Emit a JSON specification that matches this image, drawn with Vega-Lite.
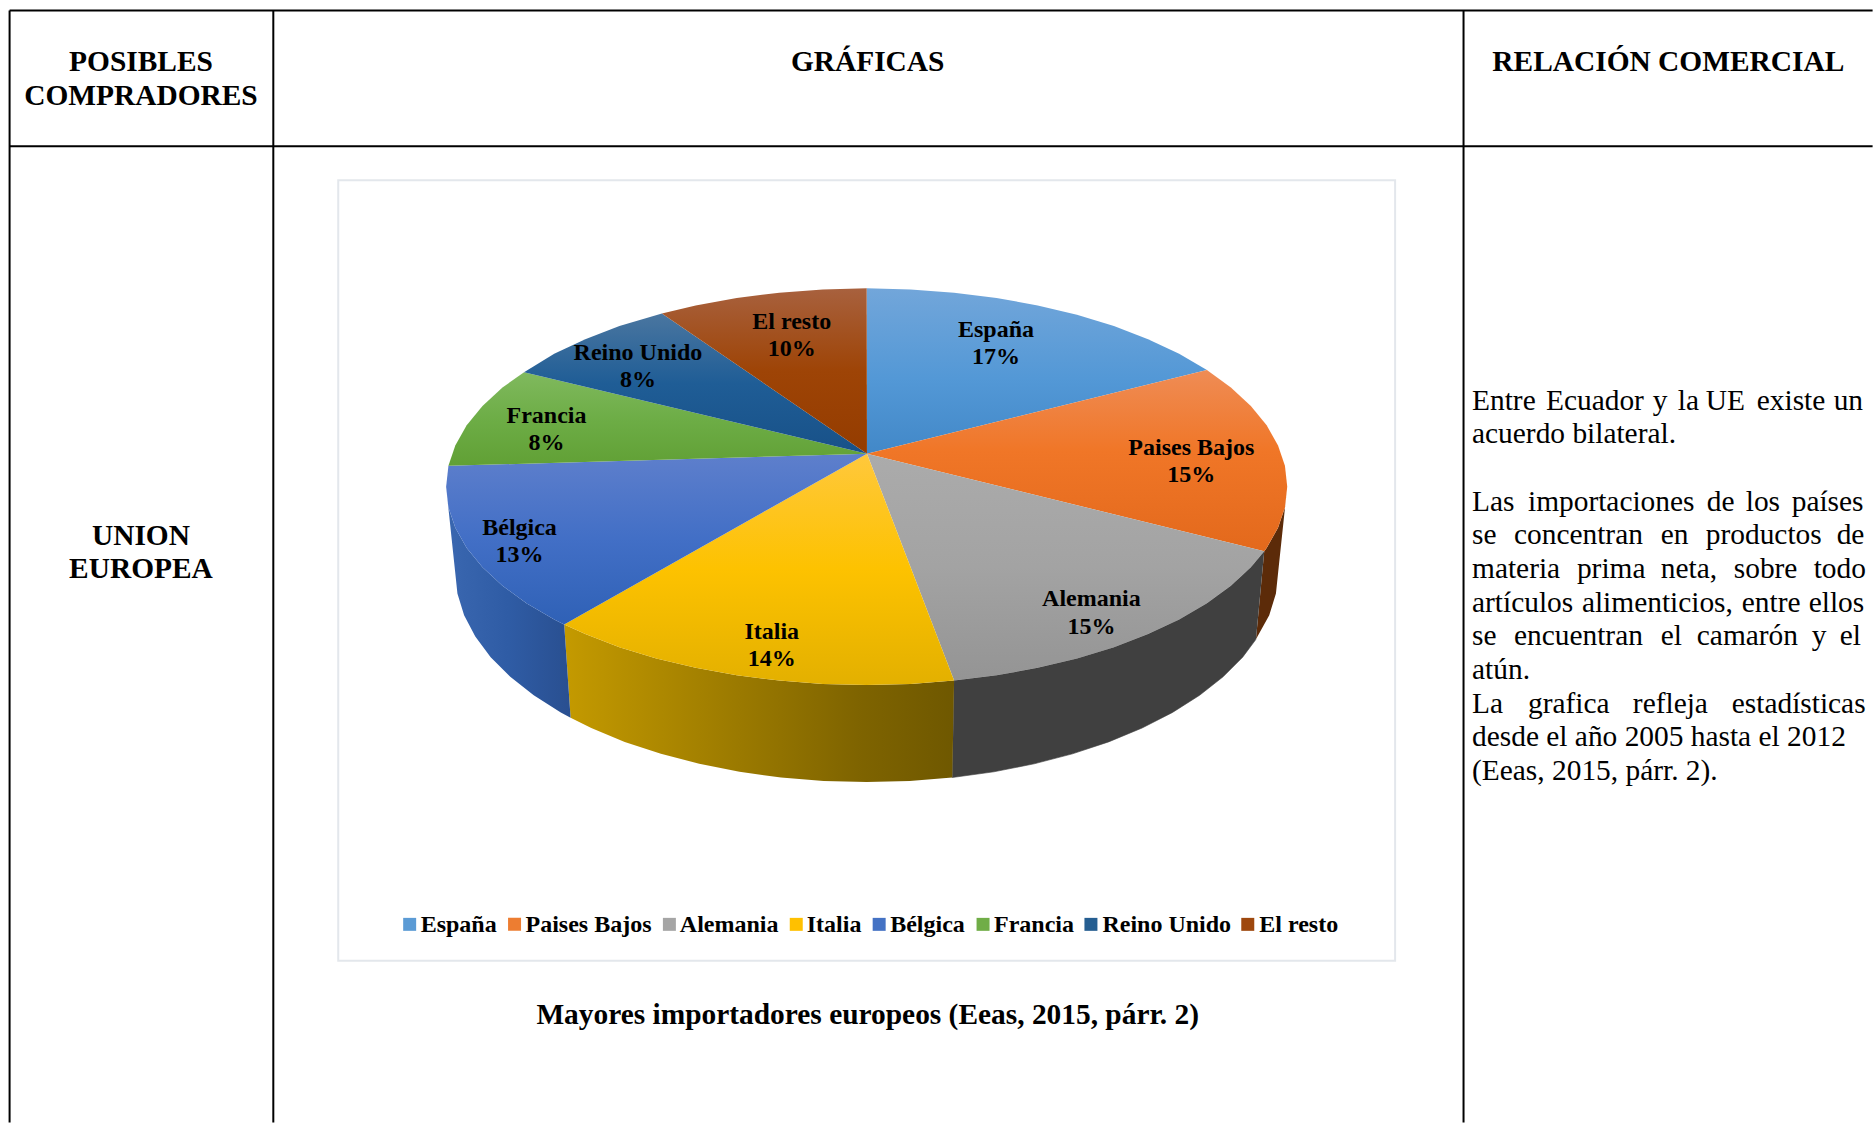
{"$schema":"https://vega.github.io/schema/vega-lite/v6.json","width":1874,"height":1124,"padding":0,"autosize":{"type":"fit","contains":"padding"},"background":"white","config":{"view":{"stroke":null}},
"datasets":{
"tabla":[{"x":9,"y":10,"x2":1874,"y2":10},{"x":9,"y":146,"x2":1874,"y2":146},{"x":9,"y":10,"x2":9,"y2":1124},{"x":273,"y":10,"x2":273,"y2":1124},{"x":1464.5,"y":10,"x2":1464.5,"y2":1124}],
"marco":[{"x":338,"y":180,"x2":1396,"y2":962}],
"piezas":[
{"pieza":"Paises Bajos (lado)","x":1288,"y":487},{"pieza":"Paises Bajos (lado)","x":1285.7,"y":507.8},{"pieza":"Paises Bajos (lado)","x":1278.8,"y":528.3},{"pieza":"Paises Bajos (lado)","x":1267.4,"y":548.4},{"pieza":"Paises Bajos (lado)","x":1265,"y":551.7},{"pieza":"Paises Bajos (lado)","x":1256.7,"y":640},{"pieza":"Paises Bajos (lado)","x":1270,"y":615.9},{"pieza":"Paises Bajos (lado)","x":1276.7,"y":594},{"pieza":"Paises Bajos (lado)","x":1279,"y":572},
{"pieza":"Alemania (lado)","x":1265,"y":551.7},{"pieza":"Alemania (lado)","x":1251.6,"y":567.8},{"pieza":"Alemania (lado)","x":1231.6,"y":586.4},{"pieza":"Alemania (lado)","x":1207.6,"y":603.8},{"pieza":"Alemania (lado)","x":1179.8,"y":620},{"pieza":"Alemania (lado)","x":1148.7,"y":634.7},{"pieza":"Alemania (lado)","x":1114.5,"y":647.8},{"pieza":"Alemania (lado)","x":1077.5,"y":659.1},{"pieza":"Alemania (lado)","x":1038.2,"y":668.5},{"pieza":"Alemania (lado)","x":997.1,"y":676},{"pieza":"Alemania (lado)","x":954.5,"y":681.3},{"pieza":"Alemania (lado)","x":952.7,"y":778.4},{"pieza":"Alemania (lado)","x":994.3,"y":772.7},{"pieza":"Alemania (lado)","x":1034.6,"y":764.7},{"pieza":"Alemania (lado)","x":1073,"y":754.7},{"pieza":"Alemania (lado)","x":1109.2,"y":742.7},{"pieza":"Alemania (lado)","x":1142.7,"y":728.8},{"pieza":"Alemania (lado)","x":1173.2,"y":713.2},{"pieza":"Alemania (lado)","x":1200.3,"y":696},{"pieza":"Alemania (lado)","x":1223.8,"y":677.5},{"pieza":"Alemania (lado)","x":1243.4,"y":657.8},{"pieza":"Alemania (lado)","x":1256.7,"y":640},
{"pieza":"Italia (lado)","x":954.5,"y":681.3},{"pieza":"Italia (lado)","x":911,"y":684.6},{"pieza":"Italia (lado)","x":867,"y":685.7},{"pieza":"Italia (lado)","x":823,"y":684.6},{"pieza":"Italia (lado)","x":779.5,"y":681.3},{"pieza":"Italia (lado)","x":736.9,"y":676},{"pieza":"Italia (lado)","x":695.8,"y":668.5},{"pieza":"Italia (lado)","x":656.5,"y":659.1},{"pieza":"Italia (lado)","x":619.5,"y":647.8},{"pieza":"Italia (lado)","x":585.3,"y":634.7},{"pieza":"Italia (lado)","x":564.2,"y":625},{"pieza":"Italia (lado)","x":570.6,"y":718.6},{"pieza":"Italia (lado)","x":591.3,"y":728.8},{"pieza":"Italia (lado)","x":624.8,"y":742.7},{"pieza":"Italia (lado)","x":661,"y":754.7},{"pieza":"Italia (lado)","x":699.4,"y":764.7},{"pieza":"Italia (lado)","x":739.7,"y":772.7},{"pieza":"Italia (lado)","x":781.3,"y":778.4},{"pieza":"Italia (lado)","x":823.9,"y":781.8},{"pieza":"Italia (lado)","x":867,"y":783},{"pieza":"Italia (lado)","x":910.1,"y":781.8},{"pieza":"Italia (lado)","x":952.7,"y":778.4},
{"pieza":"Bélgica (lado)","x":564.2,"y":625},{"pieza":"Bélgica (lado)","x":554.2,"y":620},{"pieza":"Bélgica (lado)","x":526.4,"y":603.8},{"pieza":"Bélgica (lado)","x":502.4,"y":586.4},{"pieza":"Bélgica (lado)","x":482.4,"y":567.8},{"pieza":"Bélgica (lado)","x":466.6,"y":548.4},{"pieza":"Bélgica (lado)","x":455.2,"y":528.3},{"pieza":"Bélgica (lado)","x":448.3,"y":507.8},{"pieza":"Bélgica (lado)","x":446,"y":487},{"pieza":"Bélgica (lado)","x":455,"y":572},{"pieza":"Bélgica (lado)","x":457.3,"y":594},{"pieza":"Bélgica (lado)","x":464,"y":615.9},{"pieza":"Bélgica (lado)","x":475.2,"y":637.2},{"pieza":"Bélgica (lado)","x":490.6,"y":657.8},{"pieza":"Bélgica (lado)","x":510.2,"y":677.5},{"pieza":"Bélgica (lado)","x":533.7,"y":696},{"pieza":"Bélgica (lado)","x":560.8,"y":713.2},{"pieza":"Bélgica (lado)","x":570.6,"y":718.6},
{"pieza":"España","x":867.3,"y":454},{"pieza":"España","x":867,"y":288.3},{"pieza":"España","x":911,"y":289.4},{"pieza":"España","x":954.5,"y":292.7},{"pieza":"España","x":997.1,"y":298},{"pieza":"España","x":1038.2,"y":305.5},{"pieza":"España","x":1077.5,"y":314.9},{"pieza":"España","x":1114.5,"y":326.2},{"pieza":"España","x":1148.7,"y":339.3},{"pieza":"España","x":1179.8,"y":354},{"pieza":"España","x":1207.6,"y":370.2},
{"pieza":"Paises Bajos","x":867.3,"y":454},{"pieza":"Paises Bajos","x":1207.6,"y":370.2},{"pieza":"Paises Bajos","x":1231.6,"y":387.6},{"pieza":"Paises Bajos","x":1251.6,"y":406.2},{"pieza":"Paises Bajos","x":1267.4,"y":425.6},{"pieza":"Paises Bajos","x":1278.8,"y":445.7},{"pieza":"Paises Bajos","x":1285.7,"y":466.2},{"pieza":"Paises Bajos","x":1288,"y":487},{"pieza":"Paises Bajos","x":1285.7,"y":507.8},{"pieza":"Paises Bajos","x":1278.8,"y":528.3},{"pieza":"Paises Bajos","x":1267.4,"y":548.4},{"pieza":"Paises Bajos","x":1265,"y":551.7},
{"pieza":"Alemania","x":867.3,"y":454},{"pieza":"Alemania","x":1265,"y":551.7},{"pieza":"Alemania","x":1251.6,"y":567.8},{"pieza":"Alemania","x":1231.6,"y":586.4},{"pieza":"Alemania","x":1207.6,"y":603.8},{"pieza":"Alemania","x":1179.8,"y":620},{"pieza":"Alemania","x":1148.7,"y":634.7},{"pieza":"Alemania","x":1114.5,"y":647.8},{"pieza":"Alemania","x":1077.5,"y":659.1},{"pieza":"Alemania","x":1038.2,"y":668.5},{"pieza":"Alemania","x":997.1,"y":676},{"pieza":"Alemania","x":954.5,"y":681.3},
{"pieza":"Italia","x":867.3,"y":454},{"pieza":"Italia","x":954.5,"y":681.3},{"pieza":"Italia","x":911,"y":684.6},{"pieza":"Italia","x":867,"y":685.7},{"pieza":"Italia","x":823,"y":684.6},{"pieza":"Italia","x":779.5,"y":681.3},{"pieza":"Italia","x":736.9,"y":676},{"pieza":"Italia","x":695.8,"y":668.5},{"pieza":"Italia","x":656.5,"y":659.1},{"pieza":"Italia","x":619.5,"y":647.8},{"pieza":"Italia","x":585.3,"y":634.7},{"pieza":"Italia","x":564.2,"y":625},
{"pieza":"Bélgica","x":867.3,"y":454},{"pieza":"Bélgica","x":564.2,"y":625},{"pieza":"Bélgica","x":554.2,"y":620},{"pieza":"Bélgica","x":526.4,"y":603.8},{"pieza":"Bélgica","x":502.4,"y":586.4},{"pieza":"Bélgica","x":482.4,"y":567.8},{"pieza":"Bélgica","x":466.6,"y":548.4},{"pieza":"Bélgica","x":455.2,"y":528.3},{"pieza":"Bélgica","x":448.3,"y":507.8},{"pieza":"Bélgica","x":446,"y":487},{"pieza":"Bélgica","x":448.3,"y":466.2},
{"pieza":"Francia","x":867.3,"y":454},{"pieza":"Francia","x":448.3,"y":466.2},{"pieza":"Francia","x":455.2,"y":445.7},{"pieza":"Francia","x":466.6,"y":425.6},{"pieza":"Francia","x":482.4,"y":406.2},{"pieza":"Francia","x":502.4,"y":387.6},{"pieza":"Francia","x":524,"y":372.5},
{"pieza":"Reino Unido","x":867.3,"y":454},{"pieza":"Reino Unido","x":524,"y":372.5},{"pieza":"Reino Unido","x":554.2,"y":354},{"pieza":"Reino Unido","x":585.3,"y":339.3},{"pieza":"Reino Unido","x":619.5,"y":326.2},{"pieza":"Reino Unido","x":662,"y":313.6},
{"pieza":"El resto","x":867.3,"y":454},{"pieza":"El resto","x":662,"y":313.6},{"pieza":"El resto","x":695.8,"y":305.5},{"pieza":"El resto","x":736.9,"y":298},{"pieza":"El resto","x":779.5,"y":292.7},{"pieza":"El resto","x":823,"y":289.4},{"pieza":"El resto","x":867,"y":288.3}
],
"leyenda":[{"pieza":"España","x":403,"x2":416,"y":919,"y2":932,"tx":420.5,"ty":933},{"pieza":"Paises Bajos","x":508,"x2":521,"y":919,"y2":932,"tx":525.5,"ty":933},{"pieza":"Alemania","x":663,"x2":676,"y":919,"y2":932,"tx":680,"ty":933},{"pieza":"Italia","x":790,"x2":803,"y":919,"y2":932,"tx":807,"ty":933},{"pieza":"Bélgica","x":873,"x2":886,"y":919,"y2":932,"tx":890.5,"ty":933},{"pieza":"Francia","x":977,"x2":990,"y":919,"y2":932,"tx":994.5,"ty":933},{"pieza":"Reino Unido","x":1085,"x2":1098,"y":919,"y2":932,"tx":1103,"ty":933},{"pieza":"El resto","x":1242,"x2":1255,"y":919,"y2":932,"tx":1260,"ty":933}],
"etiquetas":[{"texto":"España\n17%","x":996.5,"y":337},{"texto":"Paises Bajos\n15%","x":1192,"y":455},{"texto":"Alemania\n15%","x":1092,"y":607},{"texto":"Italia\n14%","x":772,"y":639.5},{"texto":"Bélgica\n13%","x":519.5,"y":535},{"texto":"Francia\n8%","x":546.5,"y":423},{"texto":"Reino Unido\n8%","x":638,"y":360},{"texto":"El resto\n10%","x":792,"y":329}],
"titulos":[{"texto":"POSIBLES","x":140.5,"y":71},{"texto":"COMPRADORES","x":140.5,"y":105},{"texto":"GRÁFICAS","x":868,"y":71},{"texto":"RELACIÓN COMERCIAL","x":1669.5,"y":71},{"texto":"UNION","x":140.5,"y":545},{"texto":"EUROPEA","x":140.5,"y":579},{"texto":"Mayores importadores europeos (Eeas, 2015, párr. 2)","x":868,"y":1025.5}],
"cuerpo":[
{"texto":"Entre","x":1473,"y":410},{"texto":"Ecuador","x":1547,"y":410},{"texto":"y","x":1654,"y":410},{"texto":"la","x":1679,"y":410},{"texto":"UE","x":1707,"y":410},{"texto":"existe","x":1758,"y":410},{"texto":"un","x":1835,"y":410},
{"texto":"acuerdo bilateral.","x":1473,"y":443.7},
{"texto":"Las","x":1473,"y":511},{"texto":"importaciones","x":1529,"y":511},{"texto":"de","x":1708,"y":511},{"texto":"los","x":1747,"y":511},{"texto":"países","x":1793,"y":511},
{"texto":"se","x":1473,"y":544.8},{"texto":"concentran","x":1515,"y":544.8},{"texto":"en","x":1662,"y":544.8},{"texto":"productos","x":1707,"y":544.8},{"texto":"de","x":1838,"y":544.8},
{"texto":"materia","x":1473,"y":578.5},{"texto":"prima","x":1578,"y":578.5},{"texto":"neta,","x":1662,"y":578.5},{"texto":"sobre","x":1735,"y":578.5},{"texto":"todo","x":1815,"y":578.5},
{"texto":"artículos","x":1473,"y":612.2},{"texto":"alimenticios,","x":1583,"y":612.2},{"texto":"entre","x":1743,"y":612.2},{"texto":"ellos","x":1810,"y":612.2},
{"texto":"se","x":1473,"y":646},{"texto":"encuentran","x":1515,"y":646},{"texto":"el","x":1662,"y":646},{"texto":"camarón","x":1698,"y":646},{"texto":"y","x":1813,"y":646},{"texto":"el","x":1841,"y":646},
{"texto":"atún.","x":1473,"y":679.7},
{"texto":"La","x":1473,"y":713.4},{"texto":"grafica","x":1529,"y":713.4},{"texto":"refleja","x":1634,"y":713.4},{"texto":"estadísticas","x":1733,"y":713.4},
{"texto":"desde el año 2005 hasta el 2012","x":1473,"y":747.1},
{"texto":"(Eeas, 2015, párr. 2).","x":1473,"y":780.8}]
},
"encoding":{
"x":{"field":"x","type":"quantitative","axis":null,"scale":{"domain":[-0.6,1873.4],"nice":false,"zero":false}},
"y":{"field":"y","type":"quantitative","axis":null,"scale":{"domain":[-0.5,1123.5],"reverse":true,"nice":false,"zero":false}}
},
"layer":[
{"data":{"name":"tabla"},"mark":{"type":"rule","color":"black","strokeWidth":2},"encoding":{"x2":{"field":"x2"},"y2":{"field":"y2"}}},
{"data":{"name":"marco"},"mark":{"type":"rect","fill":"white","stroke":"#e3e7ec","strokeWidth":2},"encoding":{"x2":{"field":"x2"},"y2":{"field":"y2"}}},
{"data":{"name":"piezas"},"transform":[{"filter":{"field":"pieza","equal":"Paises Bajos (lado)"}}],"mark":{"type":"line","filled":true,"strokeWidth":0,"fill":"#5c2b09"},"encoding":{"order":{"value":null}}},
{"data":{"name":"piezas"},"transform":[{"filter":{"field":"pieza","equal":"Alemania (lado)"}}],"mark":{"type":"line","filled":true,"strokeWidth":0.6,"stroke":"#404040","fill":"#404040"},"encoding":{"order":{"value":null}}},
{"data":{"name":"piezas"},"transform":[{"filter":{"field":"pieza","equal":"Italia (lado)"}}],"mark":{"type":"line","filled":true,"strokeWidth":0,"fill":{"gradient":"linear","x1":0,"y1":0,"x2":1,"y2":0,"stops":[{"offset":0,"color":"#c49a00"},{"offset":0.75,"color":"#7f6400"},{"offset":1,"color":"#6f5800"}]}},"encoding":{"order":{"value":null}}},
{"data":{"name":"piezas"},"transform":[{"filter":{"field":"pieza","equal":"Bélgica (lado)"}}],"mark":{"type":"line","filled":true,"strokeWidth":0,"fill":{"gradient":"linear","x1":0,"y1":0,"x2":1,"y2":0,"stops":[{"offset":0,"color":"#3a67b0"},{"offset":0.5,"color":"#2f5ca5"},{"offset":1,"color":"#294f90"}]}},"encoding":{"order":{"value":null}}},
{"data":{"name":"piezas"},"transform":[{"filter":{"field":"pieza","equal":"España"}}],"mark":{"type":"line","filled":true,"strokeWidth":0,"fill":{"gradient":"linear","x1":0,"y1":0,"x2":0,"y2":1,"stops":[{"offset":0,"color":"#72a6da"},{"offset":0.55,"color":"#5398d6"},{"offset":1,"color":"#4288c8"}]}},"encoding":{"order":{"value":null}}},
{"data":{"name":"piezas"},"transform":[{"filter":{"field":"pieza","equal":"Paises Bajos"}}],"mark":{"type":"line","filled":true,"strokeWidth":0,"fill":{"gradient":"linear","x1":0,"y1":0,"x2":0,"y2":1,"stops":[{"offset":0,"color":"#ef8c55"},{"offset":0.45,"color":"#f07627"},{"offset":1,"color":"#e3691c"}]}},"encoding":{"order":{"value":null}}},
{"data":{"name":"piezas"},"transform":[{"filter":{"field":"pieza","equal":"Alemania"}}],"mark":{"type":"line","filled":true,"strokeWidth":0,"fill":{"gradient":"linear","x1":0,"y1":0,"x2":0,"y2":1,"stops":[{"offset":0,"color":"#ababab"},{"offset":0.5,"color":"#a3a3a3"},{"offset":1,"color":"#949494"}]}},"encoding":{"order":{"value":null}}},
{"data":{"name":"piezas"},"transform":[{"filter":{"field":"pieza","equal":"Italia"}}],"mark":{"type":"line","filled":true,"strokeWidth":0,"fill":{"gradient":"linear","x1":0,"y1":0,"x2":0,"y2":1,"stops":[{"offset":0,"color":"#ffc83c"},{"offset":0.5,"color":"#fdc200"},{"offset":1,"color":"#e3b000"}]}},"encoding":{"order":{"value":null}}},
{"data":{"name":"piezas"},"transform":[{"filter":{"field":"pieza","equal":"Bélgica"}}],"mark":{"type":"line","filled":true,"strokeWidth":0,"fill":{"gradient":"linear","x1":0,"y1":0,"x2":0,"y2":1,"stops":[{"offset":0,"color":"#5e7fcc"},{"offset":0.5,"color":"#426fc6"},{"offset":1,"color":"#2f61b6"}]}},"encoding":{"order":{"value":null}}},
{"data":{"name":"piezas"},"transform":[{"filter":{"field":"pieza","equal":"Francia"}}],"mark":{"type":"line","filled":true,"strokeWidth":0,"fill":{"gradient":"linear","x1":0,"y1":0,"x2":0,"y2":1,"stops":[{"offset":0,"color":"#80b95e"},{"offset":0.5,"color":"#6dad46"},{"offset":1,"color":"#61a035"}]}},"encoding":{"order":{"value":null}}},
{"data":{"name":"piezas"},"transform":[{"filter":{"field":"pieza","equal":"Reino Unido"}}],"mark":{"type":"line","filled":true,"strokeWidth":0,"fill":{"gradient":"linear","x1":0,"y1":0,"x2":0,"y2":1,"stops":[{"offset":0,"color":"#4a76a0"},{"offset":0.5,"color":"#1f5d96"},{"offset":1,"color":"#185188"}]}},"encoding":{"order":{"value":null}}},
{"data":{"name":"piezas"},"transform":[{"filter":{"field":"pieza","equal":"El resto"}}],"mark":{"type":"line","filled":true,"strokeWidth":0,"fill":{"gradient":"linear","x1":0,"y1":0,"x2":0,"y2":1,"stops":[{"offset":0,"color":"#a8613e"},{"offset":0.5,"color":"#9e4406"},{"offset":1,"color":"#943c00"}]}},"encoding":{"order":{"value":null}}},
{"data":{"name":"leyenda"},"mark":{"type":"rect"},"encoding":{"x2":{"field":"x2"},"y2":{"field":"y2"},"fill":{"field":"pieza","type":"nominal","legend":null,"scale":{"domain":["España","Paises Bajos","Alemania","Italia","Bélgica","Francia","Reino Unido","El resto"],"range":["#5b9bd5","#ed7d31","#a5a5a5","#ffc000","#4472c4","#70ad47","#255e91","#9e480e"]}}}},
{"data":{"name":"leyenda"},"mark":{"type":"text","align":"left","baseline":"alphabetic","font":"Liberation Serif","fontWeight":"bold","fontSize":24,"color":"black"},"encoding":{"x":{"field":"tx","type":"quantitative"},"y":{"field":"ty","type":"quantitative"},"text":{"field":"pieza"}}},
{"data":{"name":"etiquetas"},"mark":{"type":"text","align":"center","baseline":"alphabetic","font":"Liberation Serif","fontWeight":"bold","fontSize":24,"lineBreak":"\n","lineHeight":27.2,"color":"black"},"encoding":{"text":{"field":"texto"}}},
{"data":{"name":"titulos"},"mark":{"type":"text","align":"center","baseline":"alphabetic","font":"Liberation Serif","fontWeight":"bold","fontSize":29.4,"color":"black"},"encoding":{"text":{"field":"texto"}}},
{"data":{"name":"cuerpo"},"mark":{"type":"text","align":"left","baseline":"alphabetic","font":"Liberation Serif","fontSize":29.4,"color":"black"},"encoding":{"text":{"field":"texto"}}}
]}
